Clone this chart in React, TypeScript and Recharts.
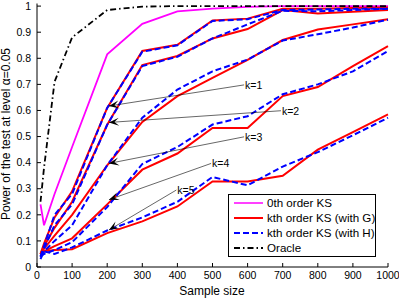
import React from "react";
import {
  LineChart,
  Line,
  XAxis,
  YAxis,
  Legend,
  ReferenceLine,
} from "recharts";

const sampleSizes = [10, 20, 50, 100, 200, 300, 400, 500, 600, 700, 800, 900, 1000];

const zerothOrder = [0.24, 0.16, 0.28, 0.46, 0.815, 0.932, 0.98, 0.99, 0.997, 1, 1, 1, 1];
const oracle = [0.25, 0.38, 0.71, 0.88, 0.985, 0.998, 1, 1, 1, 1, 1, 1, 1];

const k1G = [0.05, 0.09, 0.19, 0.29, 0.61, 0.828, 0.852, 0.945, 0.952, 0.99, 0.99, 0.993, 0.995];
const k1H = [0.04, 0.08, 0.2, 0.28, 0.61, 0.825, 0.85, 0.943, 0.95, 0.985, 0.987, 0.99, 0.99];
const k2G = [0.05, 0.08, 0.15, 0.25, 0.545, 0.774, 0.809, 0.876, 0.912, 0.985, 0.972, 0.978, 0.985];
const k2H = [0.04, 0.07, 0.16, 0.24, 0.545, 0.77, 0.806, 0.876, 0.93, 0.982, 0.98, 0.985, 0.99];
const k3G = [0.05, 0.07, 0.12, 0.2, 0.39, 0.556, 0.655, 0.725, 0.794, 0.87, 0.91, 0.93, 0.95];
const k3H = [0.04, 0.06, 0.1, 0.16, 0.39, 0.572, 0.68, 0.75, 0.795, 0.868, 0.892, 0.918, 0.948];
const k4G = [0.05, 0.06, 0.08, 0.11, 0.24, 0.373, 0.435, 0.533, 0.533, 0.655, 0.69, 0.77, 0.847];
const k4H = [0.04, 0.05, 0.065, 0.095, 0.23, 0.395, 0.46, 0.546, 0.578, 0.662, 0.7, 0.75, 0.828];
const k5G = [0.05, 0.06, 0.065, 0.068, 0.13, 0.175, 0.232, 0.328, 0.328, 0.35, 0.45, 0.517, 0.585];
const k5H = [0.03, 0.06, 0.05, 0.075, 0.14, 0.19, 0.25, 0.345, 0.313, 0.385, 0.44, 0.505, 0.572];

const gSeries = [k1G, k2G, k3G, k4G, k5G];
const hSeries = [k1H, k2H, k3H, k4H, k5H];

const xTicks = [0, 100, 200, 300, 400, 500, 600, 700, 800, 900, 1000];
const yTicks = [0, 0.1, 0.2, 0.3, 0.4, 0.5, 0.6, 0.7, 0.8, 0.9, 1];

// arrows: tip on the curve, tail where the label sits
const annLabels = ["k=1", "k=2", "k=3", "k=4", "k=5"];
const annTipX = [205, 205, 205, 205, 205];
const annTipY = [0.617, 0.554, 0.397, 0.258, 0.142];
const annTailX = [590, 695, 590, 496, 397];
const annTailY = [0.698, 0.599, 0.499, 0.397, 0.295];

const legendLabels = ["0th order KS", "kth order KS (with G)", "kth order KS (with H)", "Oracle"];
const legendColors = ["#ff00ff", "#ff0000", "#0000ff", "#000000"];
const legendDash = ["", "", "6 3", "6 3 1.5 3"];

const data = sampleSizes.map((n, i) => {
  const row: Record<string, number> = { n, zeroth: zerothOrder[i], oracle: oracle[i] };
  gSeries.forEach((s, k) => (row["g" + (k + 1)] = s[i]));
  hSeries.forEach((s, k) => (row["h" + (k + 1)] = s[i]));
  return row;
});

const FONT = "'Liberation Sans', Arial, sans-serif";

const arrowShape = (label: string) => (props: any) => {
  const { x1, y1, x2, y2 } = props;
  const dx = x2 - x1;
  const dy = y2 - y1;
  const len = Math.sqrt(dx * dx + dy * dy) || 1;
  const ux = dx / len;
  const uy = dy / len;
  const nx = -uy;
  const ny = ux;
  const L = 10;
  const W = 4;
  const head = [
    [x1, y1],
    [x1 + ux * L + nx * W, y1 + uy * L + ny * W],
    [x1 + ux * L * 0.55, y1 + uy * L * 0.55],
    [x1 + ux * L - nx * W, y1 + uy * L - ny * W],
  ]
    .map((p) => p.join(","))
    .join(" ");
  return (
    <g>
      <line x1={x1} y1={y1} x2={x2} y2={y2} stroke="#000" strokeWidth={0.6} />
      <polygon points={head} fill="#000" />
      <text x={x2 + 1} y={y2 + 4} fontSize={10.5} fontFamily={FONT} fill="#000">
        {label}
      </text>
    </g>
  );
};

const renderLegend = () => (
  <svg width={148} height={64}>
    <rect x={0.5} y={0.5} width={147} height={62} fill="#fff" stroke="#000" strokeWidth={1} />
    {legendLabels.map((lab, i) => {
      const y = 9 + i * 15;
      return (
        <g key={lab}>
          <line
            x1={6}
            x2={35}
            y1={y}
            y2={y}
            stroke={legendColors[i]}
            strokeWidth={i === 0 ? 1.5 : 2}
            strokeDasharray={legendDash[i]}
          />
          <text x={39} y={y + 4} fontSize={11.6} fontFamily={FONT} fill="#000">
            {lab}
          </text>
        </g>
      );
    })}
  </svg>
);

export default function App() {
  return (
    <div style={{ position: "absolute", left: 0, top: 0, background: "#fff" }}>
      <LineChart
        width={399}
        height={299}
        data={data}
        margin={{ top: 3.5, right: 11, bottom: 0, left: 0 }}
      >
        <XAxis
          dataKey="n"
          type="number"
          domain={[0, 1000]}
          ticks={xTicks}
          height={32}
          tickSize={-4}
          tickMargin={9}
          stroke="#000"
          tick={{ fontSize: 10.5, fill: "#000", fontFamily: FONT }}
          label={{
            content: () => (
              <text x={212} y={295} textAnchor="middle" fontSize={12} fontFamily={FONT} fill="#000">
                Sample size
              </text>
            ),
          }}
        />
        <XAxis
          xAxisId="top"
          orientation="top"
          dataKey="n"
          type="number"
          domain={[0, 1000]}
          ticks={xTicks}
          height={0}
          tickSize={-4}
          tick={false}
          stroke="#000"
        />
        <YAxis
          type="number"
          domain={[0, 1.01]}
          ticks={yTicks}
          allowDataOverflow
          width={37}
          tickSize={-4}
          tickMargin={10}
          stroke="#000"
          tick={{ fontSize: 10.5, fill: "#000", fontFamily: FONT }}
          label={{
            content: () => (
              <text
                x={10}
                y={134}
                transform="rotate(-90 10 134)"
                textAnchor="middle"
                fontSize={12}
                fontFamily={FONT}
                fill="#000"
              >
                Power of the test at level α=0.05
              </text>
            ),
          }}
        />
        <YAxis
          yAxisId="right"
          orientation="right"
          type="number"
          domain={[0, 1.01]}
          ticks={yTicks}
          width={0}
          tickSize={-4}
          tick={false}
          stroke="#000"
        />
        <Line
          dataKey="zeroth"
          stroke="#ff00ff"
          strokeWidth={1.8}
          dot={false}
          isAnimationActive={false}
        />
        {gSeries.map((_, k) => (
          <Line
            key={"g" + k}
            dataKey={"g" + (k + 1)}
            stroke="#ff0000"
            strokeWidth={2}
            dot={false}
            isAnimationActive={false}
          />
        ))}
        {hSeries.map((_, k) => (
          <Line
            key={"h" + k}
            dataKey={"h" + (k + 1)}
            stroke="#0000ff"
            strokeWidth={2}
            strokeDasharray="6 3"
            dot={false}
            isAnimationActive={false}
          />
        ))}
        <Line
          dataKey="oracle"
          stroke="#000"
          strokeWidth={1.8}
          strokeDasharray="6 3 1.5 3"
          dot={false}
          isAnimationActive={false}
        />
        {annLabels.map((lab, i) => (
          <ReferenceLine
            key={lab}
            segment={[
              { x: annTipX[i], y: annTipY[i] },
              { x: annTailX[i], y: annTailY[i] },
            ]}
            ifOverflow="visible"
            shape={arrowShape(lab)}
          />
        ))}
        <Legend
          layout="horizontal"
          verticalAlign="middle"
          align="center"
          content={renderLegend}
          wrapperStyle={{ left: 228, top: 194, width: 148, height: 64 }}
        />
      </LineChart>
    </div>
  );
}
